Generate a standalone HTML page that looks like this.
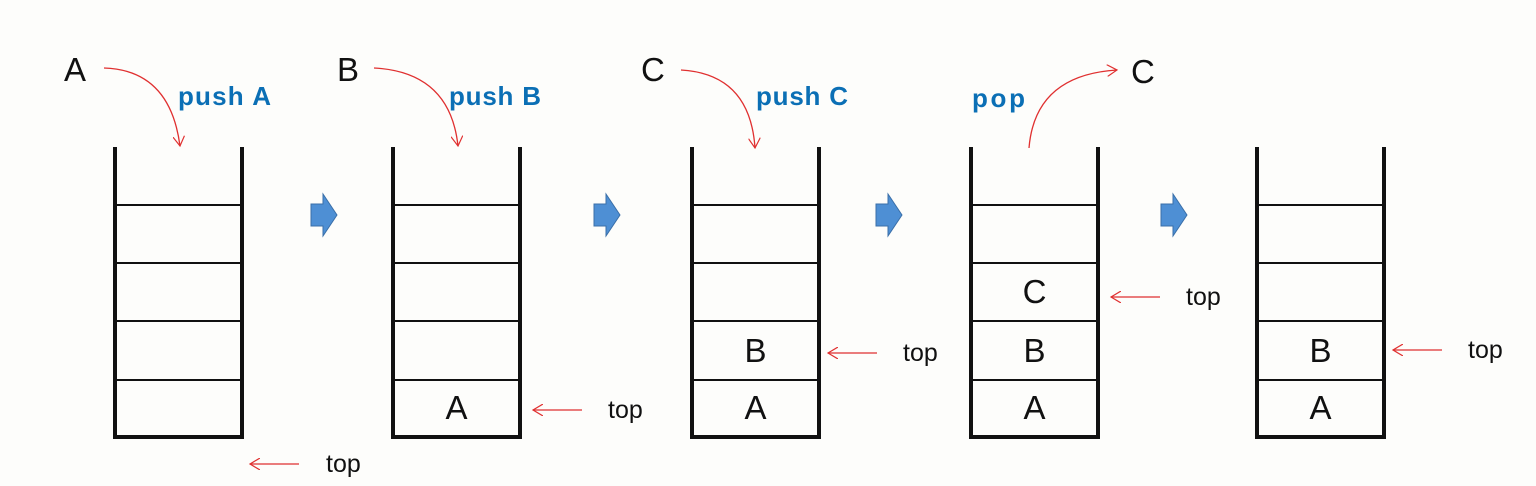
<!DOCTYPE html>
<html><head><meta charset="utf-8"><style>
html,body{margin:0;padding:0;background:#fdfdfb;}
svg{display:block;}
text{font-family:"Liberation Sans",sans-serif;}
</style></head><body>
<svg width="1536" height="486" viewBox="0 0 1536 486">
<defs>
<marker id="ah" markerWidth="12" markerHeight="12" refX="10" refY="6" orient="auto" markerUnits="userSpaceOnUse">
<path d="M0,0 L10,6 L0,12" fill="none" stroke="#e03030" stroke-width="1.2"/>
</marker>
</defs>
<g id="stacks"></g>
<g fill="#0b6fb5" font-weight="bold" font-size="26">
<text x="178" y="105" textLength="93">push A</text>
<text x="449" y="105" textLength="92">push B</text>
<text x="756" y="105" textLength="92">push C</text>
<text x="972" y="107" textLength="53">pop</text>
</g>
<g font-size="33" fill="#111">
<text x="64" y="81">A</text>
<text x="337" y="81">B</text>
<text x="641" y="81">C</text>
<text x="1131" y="83">C</text>
</g>
<g fill="none" stroke="#e03030" stroke-width="1.3">
<path d="M104,68 Q170,70 180,146" marker-end="url(#ah)"/>
<path d="M374,68 Q450,72 458,146" marker-end="url(#ah)"/>
<path d="M681,70 Q750,74 755,148" marker-end="url(#ah)"/>
<path d="M1029,148 Q1035,75 1117,70" marker-end="url(#ah)"/>
</g>
<g fill="#4e8fd4" stroke="#3a6fa8" stroke-width="1">
<path d="M311,204 h12 v-10 l14,21 l-14,21 v-10 h-12 z"/>
<path d="M594,204 h12 v-10 l14,21 l-14,21 v-10 h-12 z"/>
<path d="M876,204 h12 v-10 l14,21 l-14,21 v-10 h-12 z"/>
<path d="M1161,204 h12 v-10 l14,21 l-14,21 v-10 h-12 z"/>
</g>
<g id="tops"></g>
</svg>
<script>
const stackLefts=[115,393,692,971,1257];
const stackContents=[[],["A"],["A","B"],["A","B","C"],["A","B"]];
const topPointers=[[250,464,326],[533,410,608],[828,353,903],[1111,297,1186],[1393,350,1468]];
const NS="http://www.w3.org/2000/svg";
const g=document.getElementById('stacks');
const tg=document.getElementById('tops');
function mk(tag,attrs,parent){const e=document.createElementNS(NS,tag);for(const k in attrs)e.setAttribute(k,attrs[k]);parent.appendChild(e);return e;}
const W=127,T=147,B=437,rows=[380,321,263,205];
stackLefts.forEach((x,i)=>{
  const s=mk('g',{},g);
  
  
  const p=mk('path',{d:`M${x},${T} V${B} H${x+W} V${T}`,fill:'none',stroke:'#111','stroke-width':4},s);
  
  
  rows.forEach(y=>{const l=mk('line',{x1:x,x2:x+W,y1:y,y2:y,stroke:'#111','stroke-width':2},s);
    
    });
  stackContents[i].forEach((c,j)=>{
    const yb=j===0?B:rows[j-1];
    const t=mk('text',{x:x+W/2,y:yb-18,'text-anchor':'middle','font-size':33,fill:'#111'},s);
    t.textContent=c;
    
    
  });
  const [ax,ay,tx]=topPointers[i];
  const a=mk('path',{d:`M${ax+49},${ay} H${ax}`,stroke:'#e03030','stroke-width':1.3,fill:'none','marker-end':'url(#ah)'},tg);
  
  
  const tt=mk('text',{x:tx,y:ay+8,'font-size':25,fill:'#111'},tg);
  tt.textContent='top';
  
  
});
</script>
</body></html>
